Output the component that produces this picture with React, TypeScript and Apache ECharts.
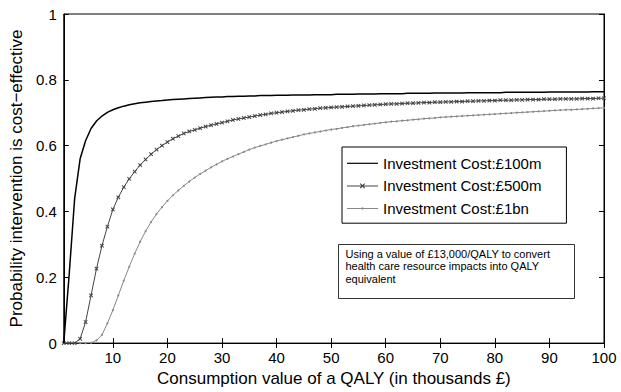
import React, { useEffect, useRef } from "react";
import * as echarts from "echarts";

const consumptionValues: number[] = Array.from({ length: 100 }, (_, i) => i + 1);

const xTickValues = [10, 20, 30, 40, 50, 60, 70, 80, 90, 100];

const seriesNames = [
  "Investment Cost:£100m",
  "Investment Cost:£500m",
  "Investment Cost:£1bn",
];

const cost100m = [
  0, 0.21, 0.44, 0.56, 0.615, 0.652, 0.675, 0.69, 0.701, 0.709,
  0.715, 0.72, 0.724, 0.727, 0.73, 0.732, 0.734, 0.736, 0.737, 0.739,
  0.74, 0.741, 0.742, 0.743, 0.744, 0.745, 0.746, 0.747, 0.748, 0.748,
  0.749, 0.749, 0.75, 0.75, 0.751, 0.751, 0.752, 0.752, 0.752, 0.753,
  0.753, 0.753, 0.754, 0.754, 0.754, 0.754, 0.755, 0.755, 0.755, 0.755,
  0.756, 0.756, 0.756, 0.756, 0.757, 0.757, 0.757, 0.757, 0.758, 0.758,
  0.758, 0.758, 0.758, 0.759, 0.759, 0.759, 0.759, 0.759, 0.76, 0.76,
  0.76, 0.76, 0.76, 0.76, 0.761, 0.761, 0.761, 0.761, 0.761, 0.761,
  0.761, 0.762, 0.762, 0.762, 0.762, 0.762, 0.762, 0.762, 0.762, 0.763,
  0.763, 0.763, 0.763, 0.763, 0.763, 0.763, 0.763, 0.764, 0.764, 0.764,
];

const cost500m = [
  0, 0, 0, 0.013, 0.064, 0.145, 0.226, 0.296, 0.354, 0.406,
  0.443, 0.474, 0.499, 0.521, 0.541, 0.558, 0.574, 0.588, 0.6, 0.611,
  0.621, 0.629, 0.637, 0.643, 0.648, 0.653, 0.658, 0.662, 0.666, 0.67,
  0.674, 0.678, 0.681, 0.684, 0.687, 0.69, 0.693, 0.695, 0.698, 0.7,
  0.702, 0.704, 0.706, 0.708, 0.709, 0.711, 0.712, 0.714, 0.715, 0.716,
  0.717, 0.718, 0.719, 0.72, 0.721, 0.722, 0.723, 0.724, 0.725, 0.726,
  0.727, 0.727, 0.728, 0.729, 0.729, 0.73, 0.731, 0.731, 0.732, 0.732,
  0.733, 0.733, 0.734, 0.734, 0.735, 0.735, 0.736, 0.736, 0.737, 0.737,
  0.738, 0.738, 0.738, 0.739, 0.739, 0.74, 0.74, 0.74, 0.741, 0.741,
  0.741, 0.742, 0.742, 0.742, 0.742, 0.743, 0.743, 0.743, 0.744, 0.744,
];

const cost1bn = [
  0, 0, 0, 0, 0, 0.001, 0.008, 0.025, 0.06, 0.1,
  0.145, 0.19, 0.232, 0.272, 0.308, 0.34, 0.368, 0.392, 0.413, 0.432,
  0.449, 0.464, 0.478, 0.491, 0.503, 0.514, 0.524, 0.534, 0.543, 0.552,
  0.56, 0.567, 0.574, 0.581, 0.588, 0.594, 0.599, 0.604, 0.609, 0.614,
  0.618, 0.622, 0.626, 0.63, 0.634, 0.637, 0.64, 0.643, 0.646, 0.649,
  0.651, 0.654, 0.656, 0.659, 0.661, 0.663, 0.665, 0.667, 0.669, 0.671,
  0.673, 0.674, 0.676, 0.677, 0.679, 0.68, 0.682, 0.683, 0.684, 0.686,
  0.687, 0.688, 0.689, 0.69, 0.691, 0.692, 0.693, 0.694, 0.695, 0.696,
  0.697, 0.698, 0.699, 0.7, 0.701, 0.702, 0.703, 0.704, 0.705, 0.706,
  0.707, 0.708, 0.709, 0.709, 0.71, 0.711, 0.712, 0.713, 0.714, 0.715,
];

const noteLines = [
  "Using a value of £13,000/QALY to convert",
  "health care resource impacts into QALY",
  "equivalent",
];

const FONT = "'Liberation Sans', Arial, Helvetica, sans-serif";
const CROSS = "path://M4,0H6V4H10V6H6V10H4V6H0V4H4Z";

// legend icons drawn in a 31 x 15 box
const ICON_PLAIN = "path://M0,0M31,15M0,6.9H31V8.1H0Z";
const ICON_CROSS =
  "path://M0,0M31,15M0,7H31V8H0Z M12.9,5.7L13.7,4.9L18.1,9.3L17.3,10.1Z M17.3,4.9L18.1,5.7L13.7,10.1L12.9,9.3Z";
const ICON_DOT = "path://M0,0M31,15M0,7H31V8H0Z M14.5,6.5H16.5V8.5H14.5Z";

export default function App() {
  const ref = useRef<HTMLDivElement>(null);

  useEffect(() => {
    if (!ref.current) return;
    const chart = echarts.init(ref.current, undefined, { renderer: "svg" });
    const pairs = (ys: number[]) => consumptionValues.map((x, i) => [x, ys[i]]);

    const xCommon = {
      type: "value",
      min: 1,
      max: 100,
      splitLine: { show: false },
      axisLine: { show: true, lineStyle: { color: "#000", width: 1 } },
      axisTick: {
        show: true,
        inside: true,
        length: 5,
        customValues: xTickValues,
        lineStyle: { color: "#000" },
      },
    };
    const yCommon = {
      type: "value",
      min: 0,
      max: 1,
      interval: 0.2,
      splitLine: { show: false },
      axisLine: { show: true, lineStyle: { color: "#000", width: 1 } },
      axisTick: { show: true, inside: true, length: 5, lineStyle: { color: "#000" } },
    };

    chart.setOption({
      animation: false,
      backgroundColor: "#fff",
      textStyle: { fontFamily: FONT },
      grid: {
        left: 60,
        right: 17,
        top: 14,
        bottom: 43,
        show: true,
        borderColor: "#000",
        borderWidth: 1,
        backgroundColor: "transparent",
      },
      xAxis: [
        {
          ...xCommon,
          position: "bottom",
          name: "Consumption value of a QALY (in thousands £)",
          nameLocation: "middle",
          nameGap: 22,
          nameTextStyle: { color: "#000", fontSize: 17, fontFamily: FONT },
          axisLabel: {
            show: true,
            customValues: xTickValues,
            color: "#000",
            fontSize: 15,
            fontFamily: FONT,
            margin: 7,
          },
        },
        {
          ...xCommon,
          position: "top",
          axisLabel: { show: false },
        },
      ],
      yAxis: [
        {
          ...yCommon,
          position: "left",
          name: "Probability intervention is cost−effective",
          nameLocation: "middle",
          nameGap: 31,
          nameTextStyle: { color: "#000", fontSize: 17, fontFamily: FONT },
          axisLabel: {
            show: true,
            color: "#000",
            fontSize: 15,
            fontFamily: FONT,
            margin: 7,
          },
        },
        {
          ...yCommon,
          position: "right",
          axisLabel: { show: false },
        },
      ],
      legend: {
        show: true,
        orient: "vertical",
        left: 342,
        top: 147,
        padding: [8.8, 25, 7.2, 5],
        itemWidth: 31,
        itemHeight: 15,
        itemGap: 7.6,
        backgroundColor: "#fff",
        borderColor: "#000",
        borderWidth: 1,
        borderRadius: 0,
        textStyle: { color: "#000", fontSize: 15, fontFamily: FONT },
        data: [
          { name: seriesNames[0], icon: ICON_PLAIN },
          { name: seriesNames[1], icon: ICON_CROSS },
          { name: seriesNames[2], icon: ICON_DOT },
        ],
      },
      graphic: [
        {
          type: "group",
          left: 338,
          top: 244,
          children: [
            {
              type: "rect",
              shape: { x: 0, y: 0, width: 236, height: 54 },
              style: { fill: "#fff", stroke: "#333", lineWidth: 1 },
            },
            {
              type: "text",
              x: 7,
              y: 3,
              style: {
                text: noteLines.join("\n"),
                fill: "#000",
                font: `11px ${FONT}`,
                lineHeight: 12.5,
              },
            },
          ],
        },
      ],
      series: [
        {
          name: seriesNames[0],
          type: "line",
          xAxisIndex: 0,
          yAxisIndex: 0,
          data: pairs(cost100m),
          showSymbol: false,
          symbol: "none",
          lineStyle: { color: "#000", width: 1.5 },
          itemStyle: { color: "#000" },
          z: 5,
        },
        {
          name: seriesNames[1],
          type: "line",
          xAxisIndex: 0,
          yAxisIndex: 0,
          data: pairs(cost500m),
          showSymbol: true,
          symbol: CROSS,
          symbolRotate: 45,
          symbolSize: 5,
          lineStyle: { color: "#444", width: 1 },
          itemStyle: { color: "#444", borderWidth: 0 },
          z: 4,
        },
        {
          name: seriesNames[2],
          type: "line",
          xAxisIndex: 0,
          yAxisIndex: 0,
          data: pairs(cost1bn),
          showSymbol: true,
          symbol: "circle",
          symbolSize: 2,
          lineStyle: { color: "#888", width: 1 },
          itemStyle: { color: "#888", borderWidth: 0 },
          z: 3,
        },
      ],
    });

    return () => chart.dispose();
  }, []);

  return (
    <div
      ref={ref}
      style={{ position: "fixed", left: 0, top: 0, width: 621, height: 392 }}
    />
  );
}
